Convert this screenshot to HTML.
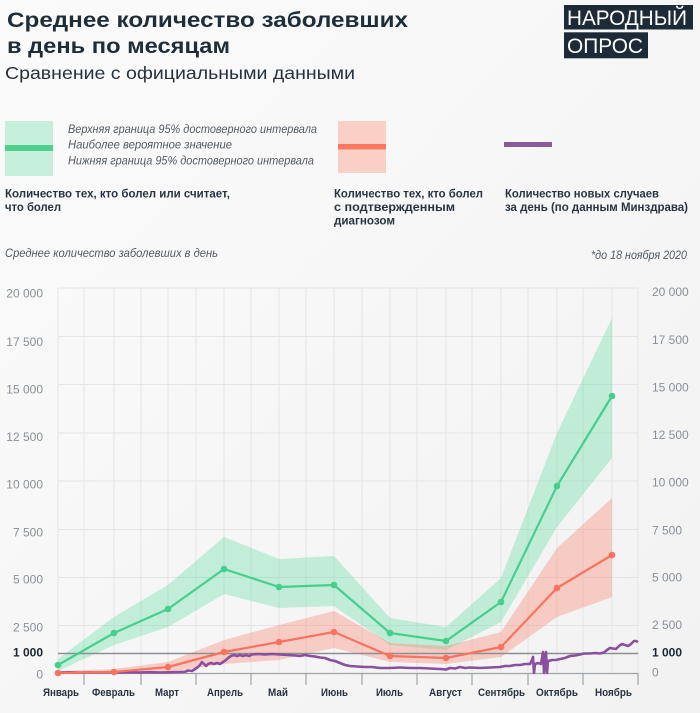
<!DOCTYPE html>
<html><head><meta charset="utf-8"><style>
html,body{margin:0;padding:0;width:700px;height:713px;overflow:hidden;background:#f5f5f5}
svg{display:block}
text{font-family:"Liberation Sans","Noto Sans CJK SC",sans-serif}
</style></head><body>
<svg width="700" height="713" viewBox="0 0 700 713" xmlns="http://www.w3.org/2000/svg">
<defs>
<linearGradient id="bg" x1="0" y1="0" x2="1" y2="1">
<stop offset="0" stop-color="#fbfbfb"/><stop offset="1" stop-color="#f2f2f2"/>
</linearGradient>
</defs>
<rect width="700" height="713" fill="url(#bg)"/>

<!-- Title -->
<text x="7" y="27" font-size="21" font-weight="bold" fill="#1e2d3a" textLength="401" lengthAdjust="spacingAndGlyphs">Среднее количество заболевших</text>
<text x="7" y="53" font-size="21" font-weight="bold" fill="#1e2d3a" textLength="223" lengthAdjust="spacingAndGlyphs">в день по месяцам</text>
<text x="5" y="79" font-size="17.5" fill="#26323e" textLength="350" lengthAdjust="spacingAndGlyphs">Сравнение с официальными данными</text>

<!-- Logo -->
<rect x="564" y="5" width="129" height="24.5" fill="#1d2b38"/>
<rect x="564" y="32.3" width="84" height="26" fill="#1d2b38"/>
<text x="567" y="25" font-size="21" fill="#ffffff" textLength="120" lengthAdjust="spacingAndGlyphs">НАРОДНЫЙ</text>
<text x="567" y="53" font-size="21" fill="#ffffff" textLength="76" lengthAdjust="spacingAndGlyphs">ОПРОС</text>

<!-- Legend -->
<rect x="5" y="121" width="48" height="55" fill="#c6f0dc"/>
<rect x="5" y="145" width="48" height="6" fill="#4fd08f"/>
<text x="68" y="133" font-size="11.5" font-style="italic" fill="#555b63" textLength="249" lengthAdjust="spacingAndGlyphs">Верхняя граница 95% достоверного интервала</text>
<text x="68" y="148.5" font-size="11.5" font-style="italic" fill="#555b63" textLength="164" lengthAdjust="spacingAndGlyphs">Наиболее вероятное значение</text>
<text x="68" y="164.5" font-size="11.5" font-style="italic" fill="#555b63" textLength="246" lengthAdjust="spacingAndGlyphs">Нижняя граница 95% достоверного интервала</text>

<rect x="338" y="121" width="48" height="52" fill="#f9cfc6"/>
<rect x="338" y="144" width="48" height="5.5" fill="#fb7863"/>
<rect x="504" y="142" width="48" height="5" fill="#8a5a9c"/>

<g font-size="12" font-weight="bold" fill="#2a3440">
<text x="5" y="197.5" textLength="225" lengthAdjust="spacingAndGlyphs">Количество тех, кто болел или считает,</text>
<text x="5" y="211" textLength="56" lengthAdjust="spacingAndGlyphs">что болел</text>
<text x="334" y="197.5" textLength="149" lengthAdjust="spacingAndGlyphs">Количество тех, кто болел</text>
<text x="334" y="211" textLength="121" lengthAdjust="spacingAndGlyphs">с подтвержденным</text>
<text x="334" y="224.5" textLength="61" lengthAdjust="spacingAndGlyphs">диагнозом</text>
<text x="505" y="197.5" textLength="154" lengthAdjust="spacingAndGlyphs">Количество новых случаев</text>
<text x="505" y="211" textLength="183" lengthAdjust="spacingAndGlyphs">за день (по данным Минздрава)</text>
</g>

<text x="5" y="257" font-size="11.5" font-style="italic" fill="#555b63" textLength="213" lengthAdjust="spacingAndGlyphs">Среднее количество заболевших в день</text>
<text x="687" y="259" font-size="11.5" font-style="italic" fill="#555b63" text-anchor="end" textLength="96" lengthAdjust="spacingAndGlyphs">*до 18 ноября 2020</text>

<!-- Grid -->
<g stroke="#e5e5e5" stroke-width="1">
<line x1="58" y1="288" x2="638" y2="288"/>
<line x1="58" y1="336.5" x2="638" y2="336.5"/>
<line x1="58" y1="384.5" x2="638" y2="384.5"/>
<line x1="58" y1="433" x2="638" y2="433"/>
<line x1="58" y1="481" x2="638" y2="481"/>
<line x1="58" y1="529.5" x2="638" y2="529.5"/>
<line x1="58" y1="577.5" x2="638" y2="577.5"/>
<line x1="58" y1="625.5" x2="638" y2="625.5"/>
<line x1="58" y1="288" x2="58" y2="673"/>
<line x1="84" y1="288" x2="84" y2="673"/>
<line x1="114" y1="288" x2="114" y2="673"/>
<line x1="141" y1="288" x2="141" y2="673"/>
<line x1="168" y1="288" x2="168" y2="673"/>
<line x1="196" y1="288" x2="196" y2="673"/>
<line x1="224" y1="288" x2="224" y2="673"/>
<line x1="251" y1="288" x2="251" y2="673"/>
<line x1="279" y1="288" x2="279" y2="673"/>
<line x1="306" y1="288" x2="306" y2="673"/>
<line x1="334" y1="288" x2="334" y2="673"/>
<line x1="362" y1="288" x2="362" y2="673"/>
<line x1="390" y1="288" x2="390" y2="673"/>
<line x1="417" y1="288" x2="417" y2="673"/>
<line x1="446" y1="288" x2="446" y2="673"/>
<line x1="472" y1="288" x2="472" y2="673"/>
<line x1="501" y1="288" x2="501" y2="673"/>
<line x1="528" y1="288" x2="528" y2="673"/>
<line x1="557" y1="288" x2="557" y2="673"/>
<line x1="583" y1="288" x2="583" y2="673"/>
<line x1="612" y1="288" x2="612" y2="673"/>
<line x1="638" y1="288" x2="638" y2="673"/>
</g>

<!-- Axis labels left -->
<g font-size="12" fill="#8a9099" text-anchor="end">
<text x="43" y="297.5">20 000</text>
<text x="43" y="346">17 500</text>
<text x="43" y="393.5">15 000</text>
<text x="43" y="441">12 500</text>
<text x="43" y="488.5">10 000</text>
<text x="43" y="536.5">7 500</text>
<text x="43" y="583.5">5 000</text>
<text x="43" y="631.5">2 500</text>
<text x="43" y="678.5">0</text>
</g>
<text x="43" y="656.5" font-size="12" font-weight="bold" fill="#1b2632" text-anchor="end">1 000</text>
<!-- Axis labels right -->
<g font-size="12" fill="#8a9099">
<text x="652" y="296">20 000</text>
<text x="652" y="344">17 500</text>
<text x="652" y="391.5">15 000</text>
<text x="652" y="439">12 500</text>
<text x="652" y="486.5">10 000</text>
<text x="652" y="534.5">7 500</text>
<text x="652" y="581.5">5 000</text>
<text x="652" y="629">2 500</text>
<text x="652" y="676.5">0</text>
</g>
<text x="652" y="656.5" font-size="12" font-weight="bold" fill="#1b2632">1 000</text>

<!-- Bands -->
<polygon fill="rgb(72,214,146)" fill-opacity="0.3" points="58,659 114,617 168,585 224,537 279,559 334,556 390,618 446,627 501,578 557,433 612,318 612,458 557,527 501,622 446,650 390,645 334,606 279,608 224,594 168,627 114,645 58,671"/>
<polygon fill="rgb(250,120,100)" fill-opacity="0.33" points="58,671 114,669 168,662 224,640 279,625 334,611 390,643 446,646 501,632 557,548 612,498 612,597 557,617 501,657 446,664 390,662 334,648 279,660 224,664 168,672 114,674 58,674"/>

<!-- 1000 line and baseline -->
<line x1="58" y1="653.5" x2="638" y2="653.5" stroke="#8c8f93" stroke-width="1.6"/>
<line x1="58" y1="673.5" x2="638" y2="673.5" stroke="#a0a3a7" stroke-width="1.3"/>
<g stroke="#a0a3a7" stroke-width="1.2">
<line x1="84" y1="673" x2="84" y2="685"/>
<line x1="141" y1="673" x2="141" y2="685"/>
<line x1="196" y1="673" x2="196" y2="685"/>
<line x1="251" y1="673" x2="251" y2="685"/>
<line x1="306" y1="673" x2="306" y2="685"/>
<line x1="362" y1="673" x2="362" y2="685"/>
<line x1="417" y1="673" x2="417" y2="685"/>
<line x1="472" y1="673" x2="472" y2="685"/>
<line x1="528" y1="673" x2="528" y2="685"/>
<line x1="583" y1="673" x2="583" y2="685"/>
<line x1="638" y1="673" x2="638" y2="685"/>
</g>

<!-- Purple line -->
<polyline fill="none" stroke="#8a4f9e" stroke-width="2.6" stroke-linejoin="round" points="58,672.5 70,672.3 80,672.6 90,672.4 100,672.5 110,672.2 120,672.5 130,672.3 140,672.5 150,672.2 160,672.5 170,672.3 180,672.0 185,671.8 188,670.5 192,671 195,669 198,667 200,665 202,662 204,664 206,666 208,664 211,663 214,664 217,663 220,664 223,662 226,660 228,658 231,656 234,655 237,656 240,655 243,656 246,655 249,656 252,654.5 258,654 265,654.5 272,654 280,654.5 288,655 295,655.5 300,656 305,655 310,656 315,656.5 320,657.5 325,658 330,660 335,661 340,663 345,665 350,666 357,666.5 365,667 372,667 380,668 390,668 400,667.5 410,668 420,668 430,668.5 440,669 446,669.5 450,668 455,668.5 460,667 465,668 470,667.5 480,668 490,667.5 500,667 505,666 510,666 515,665 520,665 525,664 530,664 532,660 533,657 534,673 535,664 538,663 541,664 543,652 544,673 545,660 546,652 547,673 548,661 552,660 556,660 560,659 565,658 570,656 575,655.5 580,654.5 584,653.5 590,653.5 595,653 600,653.5 604,652.5 607,650 610,648 613,648.5 616,649 619,646 622,644 625,645 628,646 631,644 634,641 636,641 638,642"/>

<!-- Green line -->
<polyline fill="none" stroke="#45cf8c" stroke-width="2.2" stroke-linejoin="round" points="58,665 114,633 168,609 224,569 279,587 334,585 390,633 446,641 501,602 557,486 612,396"/>
<g fill="#45cf8c">
<circle cx="58" cy="665" r="3.3"/><circle cx="114" cy="633" r="3.3"/><circle cx="168" cy="609" r="3.3"/><circle cx="224" cy="569" r="3.3"/><circle cx="279" cy="587" r="3.3"/><circle cx="334" cy="585" r="3.3"/><circle cx="390" cy="633" r="3.3"/><circle cx="446" cy="641" r="3.3"/><circle cx="501" cy="602" r="3.3"/><circle cx="557" cy="486" r="3.3"/><circle cx="612" cy="396" r="3.3"/>
</g>
<!-- Red line -->
<polyline fill="none" stroke="#fb735e" stroke-width="2.2" stroke-linejoin="round" points="58,673 114,672 168,667 224,652 279,642 334,632 390,656 446,658 501,647 557,588 612,555"/>
<g fill="#fb735e">
<circle cx="58" cy="673" r="3.3"/><circle cx="114" cy="672" r="3.3"/><circle cx="168" cy="667" r="3.3"/><circle cx="224" cy="652" r="3.3"/><circle cx="279" cy="642" r="3.3"/><circle cx="334" cy="632" r="3.3"/><circle cx="390" cy="656" r="3.3"/><circle cx="446" cy="658" r="3.3"/><circle cx="501" cy="647" r="3.3"/><circle cx="557" cy="588" r="3.3"/><circle cx="612" cy="555" r="3.3"/>
</g>

<!-- X labels -->
<g font-size="11" font-weight="bold" fill="#2a3440" text-anchor="middle">
<text x="61" y="696" textLength="36" lengthAdjust="spacingAndGlyphs">Январь</text>
<text x="113.5" y="696" textLength="43" lengthAdjust="spacingAndGlyphs">Февраль</text>
<text x="167" y="696" textLength="24" lengthAdjust="spacingAndGlyphs">Март</text>
<text x="225" y="696" textLength="36" lengthAdjust="spacingAndGlyphs">Апрель</text>
<text x="278" y="696" textLength="20" lengthAdjust="spacingAndGlyphs">Май</text>
<text x="334.5" y="696" textLength="27" lengthAdjust="spacingAndGlyphs">Июнь</text>
<text x="389.5" y="696" textLength="27" lengthAdjust="spacingAndGlyphs">Июль</text>
<text x="445.5" y="696" textLength="33" lengthAdjust="spacingAndGlyphs">Август</text>
<text x="501.5" y="696" textLength="47" lengthAdjust="spacingAndGlyphs">Сентябрь</text>
<text x="557" y="696" textLength="42" lengthAdjust="spacingAndGlyphs">Октябрь</text>
<text x="613.5" y="696" textLength="37" lengthAdjust="spacingAndGlyphs">Ноябрь</text>
</g>
</svg>
</body></html>
